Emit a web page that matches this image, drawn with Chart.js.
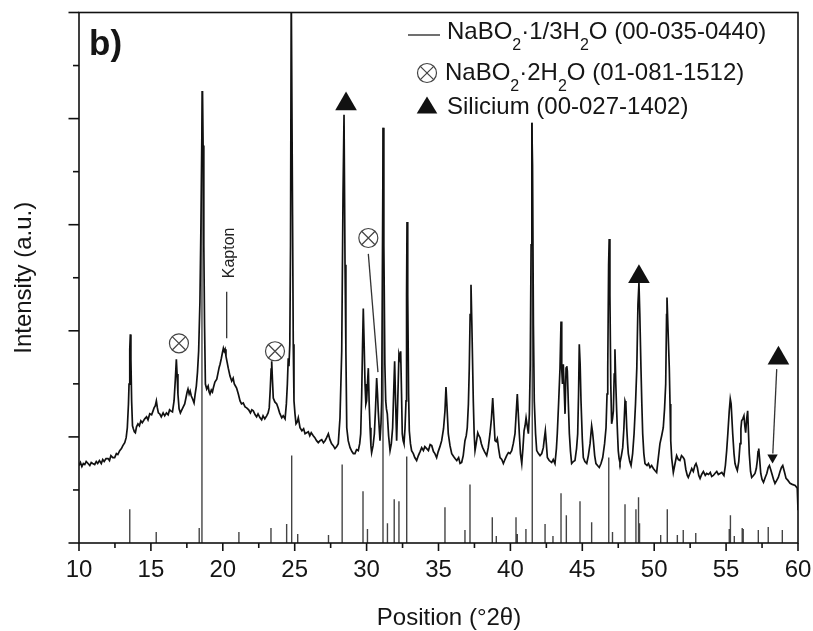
<!DOCTYPE html>
<html>
<head>
<meta charset="utf-8">
<script src="https://cdn.jsdelivr.net/npm/chart.js@4.4.1/dist/chart.umd.min.js"></script>
<style>
  body { margin: 0; background: #fff; }
  #marco { position: relative; width: 813px; height: 631px; font-family: "Liberation Sans", Arial, sans-serif; color: #151515; }
  #grafico { position: absolute; left: 0; top: 0; }
  #simbolos { position: absolute; left: 0; top: 0; }
  .leyenda { position: absolute; font-size: 24px; line-height: 28px; white-space: nowrap; }
  .leyenda sub { font-size: 16px; vertical-align: -11px; line-height: 0; }
  #letra { position: absolute; left: 89px; top: 25px; font-size: 35px; line-height: 36px; font-weight: bold; }
  #tituloX { position: absolute; left: 449px; top: 603px; transform: translateX(-50%); font-size: 24px; line-height: 28px; white-space: nowrap; }
</style>
</head>
<body>
<div id="marco">
  <canvas id="grafico" width="813" height="631"></canvas>
  <svg id="simbolos" width="813" height="631">
    <line x1="408" y1="35" x2="440" y2="35" stroke="#222" stroke-width="1.3" />
    <circle cx="427" cy="73" r="9.5" fill="none" stroke="#444" stroke-width="1.2" />
    <line x1="420.3" y1="66.3" x2="433.7" y2="79.7" stroke="#444" stroke-width="1.2" />
    <line x1="433.7" y1="66.3" x2="420.3" y2="79.7" stroke="#444" stroke-width="1.2" />
    <polygon points="427,96.5 416.7,113.5 437.3,113.5" fill="#111" />
  </svg>
  <div id="letra">b)</div>
  <div class="leyenda" style="left:447px; top:17px;">NaBO<sub>2</sub>·1/3H<sub>2</sub>O (00-035-0440)</div>
  <div class="leyenda" style="left:445px; top:58px;">NaBO<sub>2</sub>·2H<sub>2</sub>O (01-081-1512)</div>
  <div class="leyenda" style="left:447px; top:92px;">Silicium (00-027-1402)</div>
  <div id="tituloX">Position (°2θ)</div>
</div>
<script>
// difractograma medido (posicion 2theta, intensidad a.u.)
const posiciones = [
  10.00, 10.10, 10.20, 10.30, 10.40, 10.50, 10.63, 10.75, 10.85, 10.95,
  11.09, 11.20, 11.30, 11.42, 11.55, 11.65, 11.75, 11.88, 12.02, 12.12,
  12.22, 12.35, 12.48, 12.60, 12.70, 12.83, 12.95, 13.05, 13.18, 13.28,
  13.36, 13.44, 13.48, 13.53, 13.57, 13.61, 13.66, 13.72, 13.78, 13.85,
  13.92, 14.00, 14.10, 14.20, 14.30, 14.40, 14.57, 14.70, 14.80, 14.92,
  15.05, 15.15, 15.22, 15.30, 15.38, 15.45, 15.52, 15.61, 15.72, 15.85,
  15.96, 16.08, 16.20, 16.30, 16.38, 16.50, 16.61, 16.70, 16.77, 16.82,
  16.88, 16.96, 17.05, 17.15, 17.25, 17.35, 17.45, 17.52, 17.58, 17.66,
  17.73, 17.81, 17.90, 18.00, 18.08, 18.16, 18.24, 18.32, 18.41, 18.48,
  18.55, 18.59, 18.63, 18.68, 18.73, 18.79, 18.88, 18.98, 19.05, 19.11,
  19.20, 19.28, 19.34, 19.45, 19.58, 19.68, 19.75, 19.81, 19.90, 19.98,
  20.04, 20.10, 20.16, 20.22, 20.30, 20.38, 20.50, 20.62, 20.72, 20.80,
  20.88, 20.96, 21.08, 21.20, 21.30, 21.42, 21.55, 21.66, 21.80, 21.92,
  22.02, 22.12, 22.25, 22.35, 22.45, 22.59, 22.70, 22.80, 22.92, 23.05,
  23.15, 23.23, 23.30, 23.36, 23.40, 23.45, 23.51, 23.62, 23.75, 23.85,
  23.95, 24.10, 24.20, 24.33, 24.42, 24.49, 24.55, 24.60, 24.66, 24.71,
  24.76, 24.80, 24.85, 24.90, 24.95, 25.02, 25.09, 25.18, 25.25, 25.37,
  25.50, 25.62, 25.72, 25.83, 25.95, 26.05, 26.15, 26.29, 26.40, 26.52,
  26.64, 26.76, 26.88, 27.00, 27.11, 27.22, 27.34, 27.45, 27.56, 27.68,
  27.80, 27.92, 28.03, 28.15, 28.27, 28.36, 28.43, 28.50, 28.56, 28.62,
  28.72, 28.85, 28.98, 29.08, 29.19, 29.30, 29.42, 29.52, 29.59, 29.66,
  29.72, 29.77, 29.83, 29.89, 29.95, 30.00, 30.06, 30.12, 30.18, 30.24,
  30.30, 30.35, 30.45, 30.54, 30.62, 30.70, 30.76, 30.81, 30.88, 30.93,
  31.00, 31.05, 31.10, 31.15, 31.20, 31.27, 31.33, 31.38, 31.44, 31.53,
  31.63, 31.72, 31.81, 31.88, 31.95, 32.02, 32.09, 32.16, 32.25, 32.31,
  32.37, 32.43, 32.48, 32.54, 32.60, 32.67, 32.74, 32.78, 32.81, 32.86,
  32.92, 32.97, 33.05, 33.13, 33.25, 33.35, 33.48, 33.60, 33.72, 33.83,
  33.95, 34.05, 34.18, 34.30, 34.42, 34.53, 34.65, 34.75, 34.87, 34.98,
  35.10, 35.22, 35.35, 35.45, 35.52, 35.58, 35.68, 35.80, 35.92, 36.05,
  36.15, 36.27, 36.40, 36.50, 36.61, 36.72, 36.84, 36.93, 37.00, 37.08,
  37.14, 37.20, 37.26, 37.32, 37.42, 37.48, 37.54, 37.62, 37.73, 37.81,
  37.89, 37.98, 38.07, 38.20, 38.35, 38.46, 38.58, 38.68, 38.77, 38.85,
  38.93, 39.01, 39.09, 39.18, 39.28, 39.40, 39.51, 39.62, 39.74, 39.86,
  39.97, 40.09, 40.20, 40.32, 40.40, 40.48, 40.55, 40.62, 40.70, 40.79,
  40.87, 40.95, 41.02, 41.09, 41.17, 41.25, 41.32, 41.38, 41.44, 41.49,
  41.54, 41.60, 41.66, 41.75, 41.83, 41.95, 42.06, 42.18, 42.29, 42.36,
  42.43, 42.50, 42.57, 42.70, 42.87, 42.98, 43.10, 43.20, 43.26, 43.35,
  43.45, 43.52, 43.57, 43.62, 43.68, 43.74, 43.80, 43.87, 43.92, 43.96,
  44.03, 44.10, 44.18, 44.26, 44.38, 44.49, 44.60, 44.68, 44.74, 44.79,
  44.85, 44.91, 45.00, 45.07, 45.18, 45.31, 45.42, 45.54, 45.65, 45.71,
  45.77, 45.86, 45.95, 46.06, 46.18, 46.30, 46.42, 46.55, 46.65, 46.72,
  46.77, 46.83, 46.87, 46.92, 46.98, 47.04, 47.10, 47.16, 47.22, 47.27,
  47.33, 47.39, 47.45, 47.50, 47.56, 47.62, 47.72, 47.81, 47.89, 47.97,
  48.03, 48.09, 48.15, 48.20, 48.30, 48.39, 48.50, 48.60, 48.70, 48.79,
  48.87, 48.94, 49.00, 49.08, 49.14, 49.20, 49.28, 49.36, 49.50, 49.60,
  49.71, 49.82, 49.94, 50.05, 50.17, 50.28, 50.40, 50.52, 50.63, 50.72,
  50.80, 50.86, 50.89, 50.95, 51.05, 51.10, 51.15, 51.22, 51.33, 51.45,
  51.56, 51.68, 51.79, 51.90, 52.02, 52.10, 52.20, 52.30, 52.37, 52.48,
  52.61, 52.72, 52.83, 52.91, 53.00, 53.10, 53.19, 53.30, 53.42, 53.55,
  53.65, 53.78, 53.90, 54.00, 54.11, 54.22, 54.35, 54.46, 54.58, 54.70,
  54.85, 54.95, 55.04, 55.12, 55.22, 55.29, 55.35, 55.46, 55.55, 55.62,
  55.70, 55.78, 55.88, 55.97, 56.03, 56.08, 56.16, 56.24, 56.30, 56.36,
  56.43, 56.50, 56.56, 56.61, 56.70, 56.78, 56.90, 57.01, 57.10, 57.17,
  57.22, 57.27, 57.33, 57.41, 57.50, 57.60, 57.72, 57.83, 57.93, 58.01,
  58.10, 58.18, 58.30, 58.40, 58.52, 58.63, 58.75, 58.85, 58.94, 59.05,
  59.17, 59.30, 59.45, 59.60, 59.80, 59.90, 59.95, 60.00
];
const intensidades = [
  78, 81, 77, 80, 79, 82, 80, 78, 81, 80,
  79, 82, 80, 83, 80, 84, 82, 85, 85, 83,
  88, 86, 86, 90, 89, 93, 95, 98, 101, 106,
  116, 140, 160, 195, 210, 185, 143, 118, 115, 112,
  111, 117, 120, 118, 123, 121, 125, 127, 124, 130,
  129, 133, 136, 138, 143, 136, 131, 130, 127, 131,
  128, 131, 129, 134, 133, 132, 143, 165, 185, 170,
  150, 135, 131, 134, 137, 140, 147, 152, 155, 150,
  153, 148, 145, 141, 150, 158, 172, 193, 243, 320,
  420, 455, 400, 300, 220, 160, 155, 158, 152, 150,
  154, 152, 156, 162, 165, 172, 177, 180, 186, 192,
  196, 193, 195, 188, 182, 176, 168, 163, 166, 160,
  158, 156, 150, 143, 140, 141, 137, 136, 134, 131,
  134, 133, 129, 127, 130, 126, 124, 128, 125, 128,
  131, 136, 155, 175, 183, 165, 146, 142, 140, 136,
  131, 126, 128, 125, 140, 160, 186, 178, 200, 300,
  560, 560, 330, 200, 143, 130, 120, 122, 126, 116,
  113, 115, 110, 111, 112, 108, 111, 108, 106, 103,
  101, 103, 104, 101, 103, 106, 110, 104, 100, 98,
  95, 97, 100, 126, 193, 350, 431, 280, 193, 116,
  103, 96, 92, 90, 90, 94, 93, 100, 110, 150,
  200, 236, 200, 160, 140, 143, 160, 176, 140, 116,
  98, 91, 98, 110, 135, 166, 150, 133, 115, 103,
  120, 143, 280, 418, 300, 180, 143, 135, 130, 108,
  93, 100, 116, 150, 183, 140, 103, 140, 190, 186,
  193, 150, 110, 103, 100, 115, 143, 250, 323, 250,
  150, 113, 100, 93, 90, 86, 83, 88, 92, 96,
  93, 97, 95, 93, 99, 98, 92, 90, 86, 92,
  97, 103, 115, 133, 157, 140, 110, 98, 90, 87,
  85, 83, 86, 80, 81, 88, 103, 108, 116, 140,
  176, 230, 260, 220, 143, 110, 93, 100, 111, 108,
  106, 100, 96, 92, 88, 96, 110, 125, 146, 125,
  103, 102, 105, 95, 86, 84, 80, 84, 88, 91,
  90, 93, 100, 110, 130, 150, 130, 110, 90, 80,
  95, 113, 118, 126, 118, 110, 130, 180, 300, 423,
  380, 220, 143, 110, 93, 90, 88, 90, 96, 105,
  113, 100, 86, 83, 81, 84, 80, 95, 110, 140,
  176, 223, 175, 160, 180, 155, 130, 176, 178, 173,
  140, 110, 92, 80, 82, 83, 95, 110, 150, 200,
  180, 143, 105, 86, 82, 80, 88, 100, 118, 112,
  103, 88, 80, 78, 76, 80, 86, 100, 116, 150,
  176, 280, 306, 250, 160, 120, 125, 133, 170, 195,
  160, 133, 110, 93, 85, 81, 88, 96, 115, 143,
  140, 116, 100, 90, 82, 78, 90, 110, 140, 176,
  240, 262, 230, 176, 140, 110, 90, 80, 78, 80,
  76, 78, 75, 73, 71, 85, 100, 108, 116, 135,
  160, 230, 247, 220, 176, 140, 103, 85, 71, 80,
  88, 84, 83, 88, 86, 84, 74, 68, 66, 70,
  75, 72, 78, 80, 76, 68, 65, 69, 72, 68,
  70, 69, 71, 67, 68, 70, 72, 69, 70, 71,
  68, 78, 93, 110, 133, 145, 140, 110, 90, 80,
  76, 73, 82, 100, 115, 123, 125, 128, 118, 111,
  125, 133, 110, 90, 72, 66, 68, 70, 75, 83,
  92, 95, 85, 70, 64, 61, 66, 70, 76, 78,
  74, 70, 64, 60, 63, 66, 72, 76, 78, 72,
  65, 63, 60, 59, 58, 56, 55, 33
];

// patron de referencia NaBO2·1/3H2O (lineas verticales)
const lineasPos = [
  13.53, 15.37, 18.36, 18.55, 21.12, 23.35, 24.44, 24.79, 25.21, 27.35,
  28.30, 29.75, 30.06, 31.14, 31.45, 31.92, 32.25, 32.79, 35.45, 36.84,
  37.19, 38.74, 39.02, 40.39, 40.48, 41.08, 41.52, 42.41, 42.96, 43.52,
  43.89, 44.84, 45.65, 46.84, 47.10, 47.97, 48.73, 48.91, 48.98, 50.45,
  50.91, 51.61, 52.02, 52.89, 55.22, 55.30, 55.57, 56.12, 56.19, 57.24,
  57.93, 58.91
];
const lineasInt = [
  34, 11, 15, 455, 11, 15, 19, 88, 9, 8,
  79, 52, 14, 418, 20, 44, 42, 87, 36, 13,
  59, 26, 7, 26, 9, 14, 423, 19, 7, 50,
  28, 42, 21, 86, 11, 39, 34, 46, 20, 8,
  34, 8, 13, 10, 14, 28, 7, 15, 14, 13,
  16, 13
];

// marcadores de fases
const dihidratoPos = [16.95, 23.63, 30.12];
const dihidratoInt = [201, 193, 307];
const silicioPos = [28.57, 48.94, 58.64];
const silicioInt = [442, 268, 186];

const alturaMax = 534;
const pasoY = 53.4;
const fuente = "\"Liberation Sans\", Arial, sans-serif";

function puntos(xs, ys) {
  return xs.map((x, i) => ({ x: x, y: ys[i] }));
}

function lineasVerticales() {
  return lineasPos.flatMap((p, i) => [
    { x: p, y: 0 },
    { x: p, y: lineasInt[i] },
    { x: p, y: null },
  ]);
}

function segmento(x1, y1, x2, y2) {
  return {
    data: [{ x: x1, y: y1 }, { x: x2, y: y2 }],
    borderColor: "#333",
    borderWidth: 1.3,
    pointRadius: 0,
    order: 0,
  };
}

function sinRelleno(scale) {
  scale.paddingLeft = 0;
  scale.paddingRight = 0;
  scale.paddingTop = 0;
  scale.paddingBottom = 0;
}

const decoracion = {
  id: "decoracion",
  afterDatasetsDraw(chart) {
    const { ctx, chartArea: a, scales } = chart;
    const x = scales.x;
    const y = scales.y;
    ctx.save();
    ctx.strokeStyle = "#111";
    ctx.lineWidth = 1.6;
    ctx.strokeRect(a.left, a.top, a.right - a.left, a.bottom - a.top);

    for (let v = 10; v <= 60; v += 2.5) {
      const px = x.getPixelForValue(v);
      const largo = v % 5 === 0 ? 8 : 5;
      ctx.beginPath();
      ctx.moveTo(px, a.bottom);
      ctx.lineTo(px, a.bottom + largo);
      ctx.stroke();
    }
    for (let i = 0; i <= 10; i++) {
      const py = y.getPixelForValue(i * pasoY);
      const largo = i % 2 === 0 ? 10.5 : 6;
      ctx.beginPath();
      ctx.moveTo(a.left, py);
      ctx.lineTo(a.left - largo, py);
      ctx.stroke();
    }

    // etiqueta Kapton
    ctx.translate(x.getPixelForValue(20.45), y.getPixelForValue(292));
    ctx.rotate(-Math.PI / 2);
    ctx.fillStyle = "#222";
    ctx.font = "16px " + fuente;
    ctx.textAlign = "center";
    ctx.textBaseline = "middle";
    ctx.fillText("Kapton", 0, 0);
    ctx.restore();
  },
};

const config = {
  type: "line",
  data: {
    datasets: [
      {
        data: puntos(posiciones, intensidades),
        borderColor: "#111",
        borderWidth: 1.7,
        pointRadius: 0,
        order: 1,
      },
      {
        data: lineasVerticales(),
        borderColor: "#444",
        borderWidth: 1.4,
        pointRadius: 0,
        order: 2,
      },
      {
        data: puntos(dihidratoPos, dihidratoInt),
        showLine: false,
        pointStyle: "circle",
        pointRadius: 9.5,
        pointBorderColor: "#444",
        pointBackgroundColor: "rgba(0,0,0,0)",
        pointBorderWidth: 1.2,
        order: 0,
      },
      {
        data: puntos(dihidratoPos, dihidratoInt),
        showLine: false,
        pointStyle: "crossRot",
        pointRadius: 9.5,
        pointBorderColor: "#444",
        pointBorderWidth: 1.2,
        order: 0,
      },
      {
        data: puntos(silicioPos, silicioInt),
        showLine: false,
        pointStyle: "triangle",
        pointRadius: 12.5,
        pointBorderColor: "#111",
        pointBackgroundColor: "#111",
        pointBorderWidth: 0,
        order: 0,
      },
      {
        data: [{ x: 58.23, y: 86 }],
        showLine: false,
        pointStyle: "triangle",
        pointRotation: 180,
        pointRadius: 6,
        pointBorderColor: "#111",
        pointBackgroundColor: "#111",
        pointBorderWidth: 0,
        order: 0,
      },
      segmento(30.12, 291, 30.79, 172),
      segmento(58.52, 175, 58.25, 90),
      segmento(20.27, 253, 20.27, 206),
    ],
  },
  options: {
    responsive: false,
    animation: false,
    layout: { padding: { top: 9, right: 15, left: 0, bottom: 0 } },
    plugins: {
      legend: { display: false },
      tooltip: { enabled: false },
    },
    scales: {
      x: {
        type: "linear",
        min: 10,
        max: 60,
        grid: { display: false, drawTicks: false },
        border: { display: false },
        ticks: {
          stepSize: 5,
          padding: 13,
          color: "#151515",
          font: { family: fuente, size: 24 },
        },
        afterFit(scale) {
          scale.height = 88;
          sinRelleno(scale);
        },
      },
      y: {
        min: 0,
        max: alturaMax,
        grid: { display: false, drawTicks: false },
        border: { display: false },
        ticks: { display: false },
        title: {
          display: true,
          text: "Intensity (a.u.)",
          color: "#151515",
          font: { family: fuente, size: 24 },
          padding: { top: 10, bottom: 0 },
        },
        afterFit(scale) {
          scale.width = 79;
          sinRelleno(scale);
        },
      },
    },
  },
  plugins: [decoracion],
};

new Chart(document.getElementById("grafico"), config);
</script>
</body>
</html>
